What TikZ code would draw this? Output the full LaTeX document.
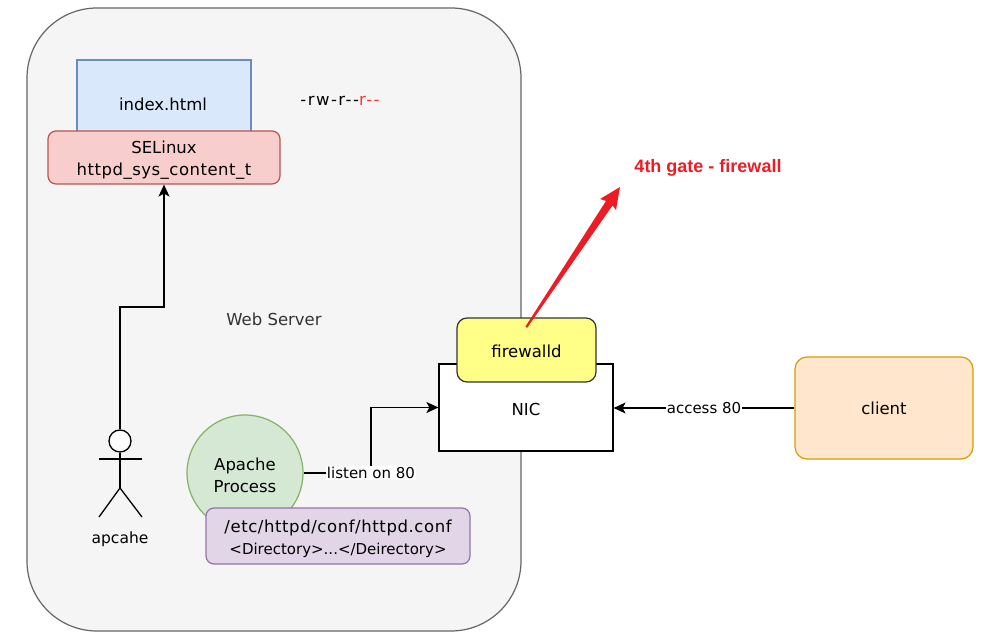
\documentclass[tikz,border=0pt]{standalone}
\usepackage{fontspec}
\setmainfont{DejaVu Sans}
\newfontfamily\gatefont{Liberation Sans}
\usetikzlibrary{arrows.meta}
\definecolor{gatered}{HTML}{ED1C24}
\newcommand{\lowertext}{\rule{0pt}{18pt}}
\tikzset{
  box/.style={draw,line width=1.2pt,inner sep=0pt,align=center,
    font=\fontsize{16.5}{22}\selectfont},
  lbl/.style={inner sep=1pt,font=\fontsize{16.5}{22}\selectfont},
  linklbl/.style={inner sep=1pt,fill=white,font=\fontsize{15}{20}\selectfont},
  conn/.style={line width=1.3pt,-{Stealth[length=12pt,width=11pt,inset=3pt]}},
  wire/.style={line width=1.3pt},
}
\begin{document}
\begin{tikzpicture}[x=1pt,y=-1pt]
  \useasboundingbox (0,0) rectangle (985,639);
  % server
  \node[box,draw=black!60,fill=black!4,rounded corners=70pt,minimum width=494pt,minimum height=623pt]
       (server) at (274,319.5) {};
  \node[lbl,text=black!80] (servername) at (274,319) {Web Server};
  % file with its context
  \node[box,draw={rgb,255:red,108;green,142;blue,191},fill={rgb,255:red,218;green,232;blue,252},
        minimum width=174pt,minimum height=72pt]
       (index) at (164,96) {};
  \node[lbl] (indexname) at (163,104) {index.html};
  \node[box,draw={rgb,255:red,184;green,84;blue,80},fill={rgb,255:red,248;green,206;blue,204},
        rounded corners=8pt,minimum width=232pt,minimum height=53pt]
       (selinux) at (164,157.5) {\lowertext SELinux\\\addfontfeature{LetterSpace=3}httpd\_sys\_content\_t};
  \node[lbl] (perm) at (340,101) {\addfontfeature{LetterSpace=9}-rw-r-{}-\textcolor{red!80}{r-{}-}};
  % actor
  \node[draw,wire,fill=white,circle,minimum size=22pt,inner sep=0pt] (acthead) at (120,441) {};
  \coordinate (hip) at (120,488);
  \coordinate (armleft) at (99,459);
  \coordinate (armright) at (142,459);
  \coordinate (footleft) at (99,517);
  \coordinate (footright) at (142,517);
  \draw[wire] (acthead.south) -- (hip);
  \draw[wire] (armleft) -- (armright);
  \draw[wire] (footleft) -- (hip) -- (footright);
  \node[lbl,font=\fontsize{15.5}{20}\selectfont] (actname) at (120,539) {apcahe};
  % apache
  \node[box,circle,draw={rgb,255:red,130;green,179;blue,102},fill={rgb,255:red,213;green,232;blue,212},
        minimum size=116pt]
       (apache) at (245,473) {\lowertext Apache\\Process};
  \node[box,draw={rgb,255:red,150;green,115;blue,166},fill={rgb,255:red,225;green,213;blue,231},
        rounded corners=8pt,minimum width=264pt,minimum height=56pt]
       (conf) at (338,536) {\lowertext\addfontfeature{LetterSpace=3.5}/etc/httpd/conf/httpd.conf\\
         \fontsize{15}{22}\selectfont<Directory>...</Deirectory>};
  % network side
  \node[box,fill=white,minimum width=174pt,minimum height=87pt] (nic) at (526,407.5) {\rule{0pt}{16pt}NIC};
  \node[box,draw=black!80,fill={rgb,255:red,255;green,255;blue,136},rounded corners=10pt,
        minimum width=139pt,minimum height=64pt]
       (firewalld) at (526.5,350) {};
  \node[lbl] (fwname) at (526.5,351) {firewalld};
  \node[box,draw={rgb,255:red,215;green,155;blue,0},fill={rgb,255:red,255;green,230;blue,204},
        rounded corners=12pt,minimum width=178pt,minimum height=102pt]
       (client) at (884,408) {client};
  % connectors
  \coordinate (actbend) at (120,307);
  \coordinate (listenup) at (371,407.5);
  \draw[conn] (acthead.north) -- (actbend) -| (selinux.south);
  \draw[conn] (apache.east) -| node[linklbl,pos=0.5] (listen) {listen on 80} (listenup) -- (nic.west);
  \draw[conn] (client.west) -- node[linklbl] (access) {access 80} (nic.east |- client.west);
  % red arrow
  \coordinate (tail) at (525.5,326.5);
  \fill[gatered] (tail) -- (606,201) -- (600,199) -- (620,187) -- (616,210) -- (612.5,205.5) -- (527,328) -- cycle;
  \node[text=gatered,inner sep=0pt,font=\gatefont\bfseries\fontsize{18}{22}\selectfont] (gate) at (708,168) {4th gate - firewall};
\end{tikzpicture}
\end{document}
